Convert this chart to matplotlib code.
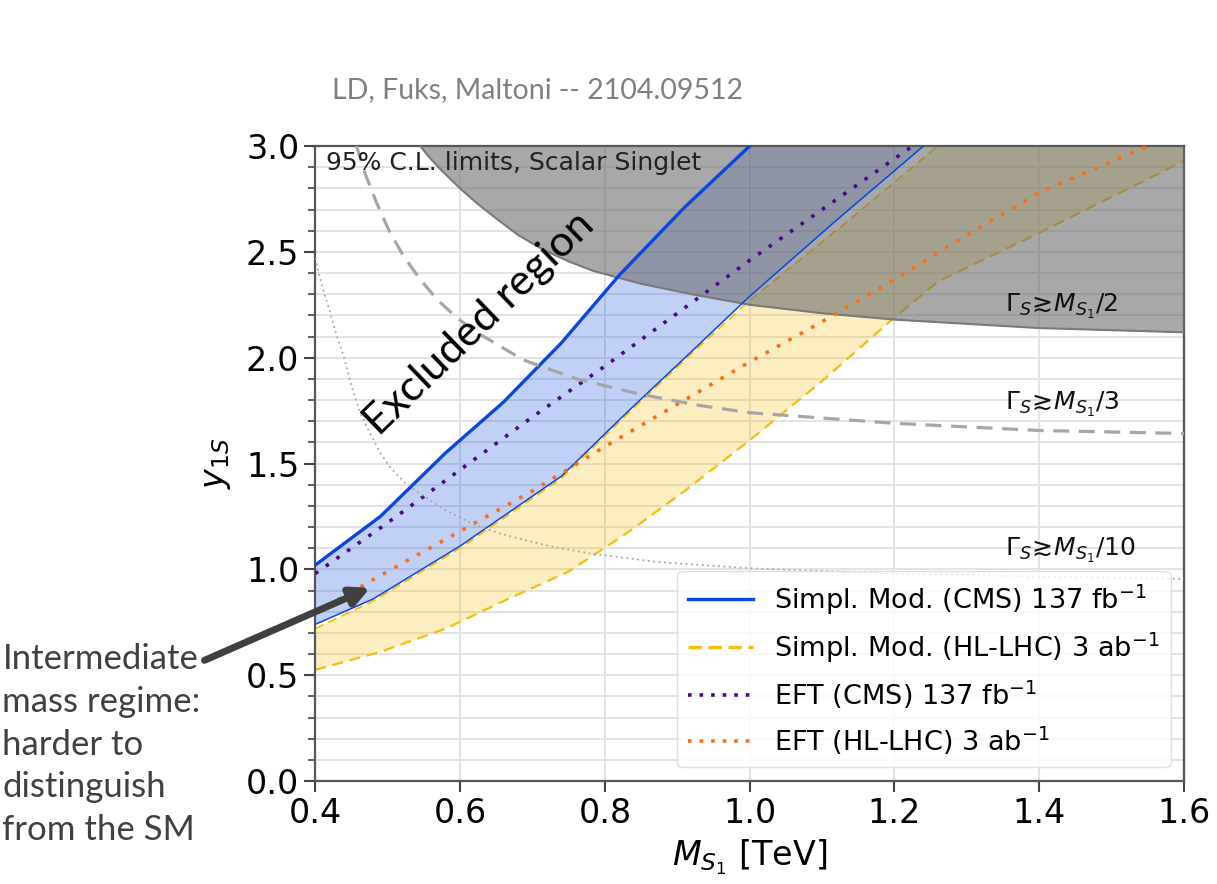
import numpy as np
import matplotlib.pyplot as plt
from matplotlib.lines import Line2D

# limits (M in TeV, coupling y_1S)
x_cms_up = [0.40, 0.49, 0.58, 0.66, 0.74, 0.82, 0.91, 1.00]
y_cms_up = [1.02, 1.25, 1.55, 1.79, 2.07, 2.39, 2.71, 3.00]
x_cms_lo = [0.40, 0.48, 0.60, 0.74, 0.83, 0.92, 1.00, 1.12, 1.24]
y_cms_lo = [0.74, 0.86, 1.11, 1.44, 1.74, 2.03, 2.29, 2.65, 3.00]

x_hl_up = [0.40, 0.48, 0.60, 0.74, 0.83, 0.92, 1.00, 1.13, 1.26]
y_hl_up = [0.72, 0.85, 1.10, 1.43, 1.73, 2.02, 2.27, 2.63, 3.00]
x_hl_lo = [0.40, 0.49, 0.58, 0.66, 0.75, 0.83, 0.91, 1.00, 1.10, 1.20, 1.26, 1.40, 1.60]
y_hl_lo = [0.525, 0.61, 0.72, 0.85, 0.99, 1.17, 1.37, 1.61, 1.89, 2.19, 2.36, 2.59, 2.93]

x_eft_cms = [0.40, 0.50, 0.60, 0.70, 0.80, 0.90, 1.00, 1.10, 1.20, 1.225]
y_eft_cms = [0.98, 1.22, 1.47, 1.72, 1.96, 2.21, 2.46, 2.70, 2.94, 3.00]
x_eft_hl = [0.40, 0.50, 0.60, 0.70, 0.80, 0.90, 1.00, 1.10, 1.20, 1.30, 1.40, 1.55]
y_eft_hl = [0.795, 0.99, 1.18, 1.37, 1.58, 1.78, 1.98, 2.17, 2.37, 2.58, 2.78, 3.00]

# width contours Gamma ~ M/2, M/3, M/10
x_w2 = [0.545, 0.558, 0.573, 0.60, 0.625, 0.651, 0.68, 0.715, 0.75, 0.784, 0.849, 0.92,
        1.00, 1.10, 1.20, 1.40, 1.60]
y_w2 = [3.00, 2.945, 2.89, 2.80, 2.725, 2.655, 2.58, 2.51, 2.455, 2.41, 2.35, 2.30,
        2.25, 2.21, 2.18, 2.14, 2.12]
x_w3 = [0.457, 0.47, 0.485, 0.502, 0.522, 0.545, 0.568, 0.595, 0.623, 0.687, 0.761, 0.849,
        0.93, 1.00, 1.20, 1.40, 1.60]
y_w3 = [3.00, 2.86, 2.73, 2.60, 2.48, 2.37, 2.276, 2.19, 2.12, 1.99, 1.90, 1.827,
        1.775, 1.74, 1.69, 1.656, 1.642]
x_w10 = [0.40, 0.41, 0.421, 0.43, 0.439, 0.45, 0.462, 0.476, 0.49, 0.504, 0.525, 0.55,
         0.58, 0.614, 0.65, 0.687, 0.73, 0.78, 0.872, 1.00, 1.20, 1.40, 1.60]
y_w10 = [2.47, 2.33, 2.21, 2.10, 2.01, 1.87, 1.74, 1.64, 1.55, 1.48, 1.405, 1.345,
         1.28, 1.22, 1.175, 1.14, 1.105, 1.075, 1.035, 1.005, 0.98, 0.965, 0.955]

width_labels = [r'$\Gamma_S\!\gtrsim\! M_{S_1}/2$', r'$\Gamma_S\!\gtrsim\! M_{S_1}/3$',
                r'$\Gamma_S\!\gtrsim\! M_{S_1}/10$']
width_label_y = [2.24, 1.78, 1.09]

legend_labels = [r'Simpl. Mod. (CMS) 137 fb$^{-1}$', r'Simpl. Mod. (HL-LHC) 3 ab$^{-1}$',
                 r'EFT (CMS) 137 fb$^{-1}$', r'EFT (HL-LHC) 3 ab$^{-1}$']

xmin, xmax, ymin, ymax = 0.4, 1.6, 0.0, 3.0

blue = '#0a46e0'
yellow = '#f7bd08'
purple = '#4b0a8c'
orange = '#fa6e16'

fig = plt.figure(figsize=(12.17, 8.84), dpi=100)
ax = fig.add_axes([0.259, 0.1165, 0.714, 0.7183])

# bands
ax.fill(np.r_[x_hl_up, xmax, x_hl_lo[::-1]], np.r_[y_hl_up, ymax, y_hl_lo[::-1]],
        color=yellow, alpha=0.25, lw=0, zorder=1)
ax.fill(np.r_[x_cms_up, x_cms_lo[::-1]], np.r_[y_cms_up, y_cms_lo[::-1]],
        color=blue, alpha=0.25, lw=0, zorder=1.2)
ax.plot(x_hl_up, y_hl_up, color=yellow, lw=1.3, ls=(0, (5, 3)), zorder=2)
ax.plot(x_hl_lo, y_hl_lo, color=yellow, lw=1.6, ls=(0, (5, 3)), zorder=2)

# width contours and excluded region
ax.fill_between(x_w2, y_w2, ymax, color='#6e6e6e', alpha=0.6, lw=0, zorder=3)
ax.plot(x_w2, y_w2, color='#7a7a7a', lw=1.5, zorder=3.1)

ax.plot(x_cms_lo, y_cms_lo, color=blue, lw=1.1, zorder=3.3)
ax.plot(x_cms_up, y_cms_up, color=blue, lw=2.4, zorder=3.3)
ax.plot(x_eft_cms, y_eft_cms, color=purple, lw=2.6, ls=(0, (1, 2.6)), zorder=3.4)
ax.plot(x_eft_hl, y_eft_hl, color=orange, lw=2.6, ls=(0, (1, 2.6)), zorder=3.4)

ax.plot(x_w3, y_w3, color='#a6a6a6', lw=2.3, ls=(0, (5, 3)), zorder=3.5)
ax.plot(x_w10, y_w10, color='#a6a6a6', lw=1.3, ls=(0, (1, 2)), zorder=3.5)

for lab, yy in zip(width_labels, width_label_y):
    ax.text(1.353, yy, lab, fontsize=18, ha='left', va='center', color='#111111', zorder=5)

ax.text(0.012, 0.992, '95% C.L. limits, Scalar Singlet', transform=ax.transAxes,
        fontsize=18, ha='left', va='top', color='#222222', zorder=5)

ax.text(0.627, 2.16, 'Excluded region', fontsize=31, family='Lato', rotation=44,
        rotation_mode='anchor', ha='center', va='center', color='black', zorder=5)

ax.set_xlim(xmin, xmax)
ax.set_ylim(ymin, ymax)
ax.set_xticks([0.4, 0.6, 0.8, 1.0, 1.2, 1.4, 1.6])
ax.set_yticks(np.arange(0, 3.01, 0.5))
ax.set_yticks(np.arange(0, 3.01, 0.1), minor=True)
ax.grid(axis='y', which='both', color='#e3e3e3', lw=1.4, zorder=0)
ax.grid(axis='x', which='major', color='#e3e3e3', lw=1.4, zorder=0)
ax.set_axisbelow(True)
ax.tick_params(which='major', length=8, width=1.5, labelsize=24, color='#444444')
ax.tick_params(which='minor', length=5, width=1.2, color='#444444')
for s in ax.spines.values():
    s.set_color('#555555')
    s.set_linewidth(1.6)

ax.set_xlabel(r'$M_{S_1}$ [TeV]', fontsize=24)
ax.set_ylabel(r'$y_{1S}$', fontsize=24)
ax.xaxis.set_label_coords(0.5, -0.088)
ax.yaxis.set_label_coords(-0.095, 0.5)

handles = [Line2D([], [], color=blue, lw=2.4),
           Line2D([], [], color=yellow, lw=2.4, ls=(0, (4, 2))),
           Line2D([], [], color=purple, lw=2.6, ls=(0, (1, 2.2))),
           Line2D([], [], color=orange, lw=2.6, ls=(0, (1, 2.2)))]
leg = ax.legend(handles, legend_labels, loc='lower right', fontsize=19.5, handlelength=2.4,
                labelspacing=0.5, framealpha=0.8, edgecolor='#d8d8d8')
leg.set_zorder(6)

# annotation outside the axes
ax.annotate('', xy=(0.476, 0.913), xycoords='data', xytext=(0.168, 0.253),
            textcoords='figure fraction', annotation_clip=False,
            arrowprops=dict(arrowstyle='-|>', lw=5, color='#404040', mutation_scale=28,
                            shrinkA=0, shrinkB=0), zorder=7)
fig.text(0.002, 0.273, 'Intermediate\nmass regime:\nharder to\ndistinguish\nfrom the SM',
         fontsize=25, family='Lato', color='#404040', ha='left', va='top', linespacing=1.42)

fig.text(0.442, 0.898, 'LD, Fuks, Maltoni -- 2104.09512', fontsize=20.5, family='Lato',
         color='#808080', ha='center', va='center')

fig.savefig('out.png', dpi=100)
